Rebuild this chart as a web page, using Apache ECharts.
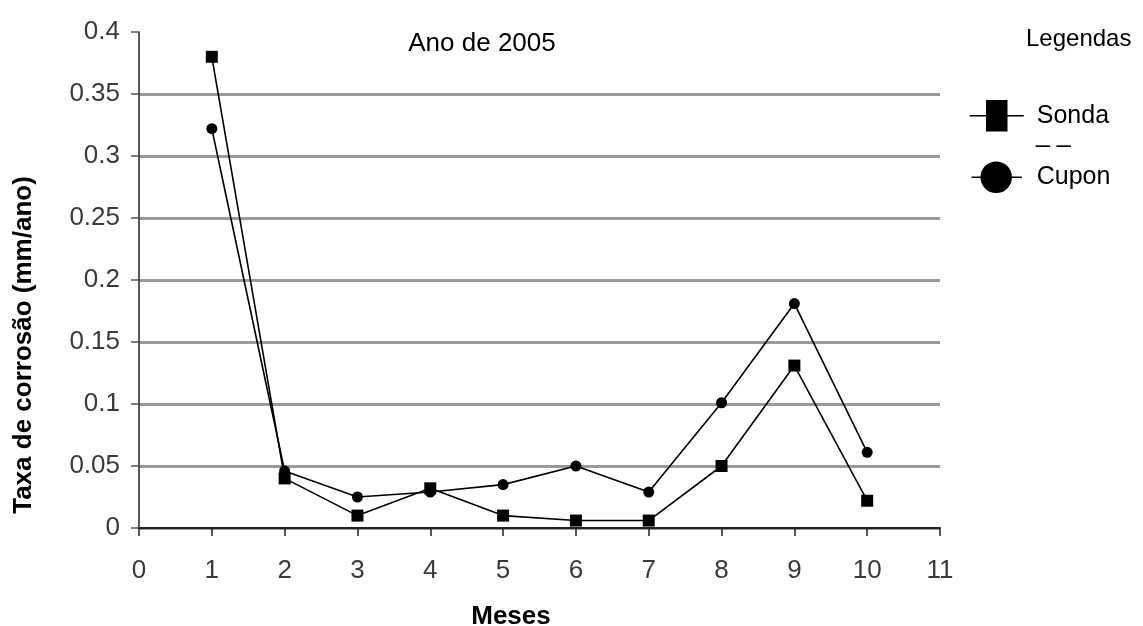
<!DOCTYPE html>
<html>
<head>
<meta charset="utf-8">
<script src="https://cdn.jsdelivr.net/npm/echarts@6/dist/echarts.min.js"></script>
<style>
  html, body { margin: 0; padding: 0; background: #fff; }
  #chart { width: 1143px; height: 626px; }
</style>
</head>
<body>
<div id="chart"></div>
<script>
const meses = [1, 2, 3, 4, 5, 6, 7, 8, 9, 10]
const sonda = [0.38, 0.04, 0.01, 0.032, 0.01, 0.006, 0.006, 0.05, 0.131, 0.022]
const cupon = [0.322, 0.046, 0.025, 0.029, 0.035, 0.05, 0.029, 0.101, 0.181, 0.061]

const font = "Liberation Sans, Arial, sans-serif"

const chart = echarts.init(document.getElementById("chart"))

const option = {
  animation: false,
  grid: { left: 139, right: 203, top: 32, bottom: 98 },
  title: {
    text: "Ano de 2005",
    left: 477,
    top: 26,
    textAlign: "center",
    textStyle: { fontFamily: font, fontSize: 26, fontWeight: "normal", color: "#000" },
  },
  legend: {
    orient: "vertical",
    left: 964,
    top: 95,
    itemWidth: 54,
    itemHeight: 30,
    itemGap: 30,
    textStyle: { fontFamily: font, fontSize: 25, color: "#000", padding: [0, 0, 0, 8] },
    itemStyle: { color: "#000", borderColor: "#000", borderWidth: 1.5 },
    data: [
      { name: "Sonda", icon: "path://M0,15H17M37,15H54M17,0H37V30H17Z" },
      { name: "Cupon", icon: "path://M3,15H12M40,15H50M12,15A14,14 0 1 1 40,15A14,14 0 1 1 12,15Z" },
    ],
  },
  graphic: [
    {
      type: "text",
      left: 1026,
      top: 27,
      style: { text: "Legendas", font: "24px " + font, fill: "#000" },
    },
    {
      type: "text",
      left: 1036,
      top: 123,
      style: { text: "_ _", font: "25px " + font, fill: "#000" },
    },
    {
      type: "text",
      x: 24,
      y: 345,
      rotation: Math.PI / 2,
      style: {
        text: "Taxa de corrosão (mm/ano)",
        font: "bold 26px " + font,
        fill: "#000",
        align: "center",
        verticalAlign: "middle",
      },
    },
    {
      type: "text",
      x: 511,
      y: 617,
      style: {
        text: "Meses",
        font: "bold 26px " + font,
        fill: "#000",
        align: "center",
        verticalAlign: "middle",
      },
    },
  ],
  xAxis: {
    type: "value",
    min: 0,
    max: 11,
    interval: 1,
    axisLine: { show: true, lineStyle: { color: "#222", width: 2 } },
    axisTick: { show: true, length: 8, lineStyle: { color: "#222", width: 1.5 } },
    axisLabel: { color: "#3a3a3a", fontFamily: font, fontSize: 26, margin: 30 },
    splitLine: { show: false },
  },
  yAxis: {
    type: "value",
    min: 0,
    max: 0.4,
    interval: 0.05,
    axisLine: { show: true, lineStyle: { color: "#222", width: 1.5 } },
    axisTick: { show: true, length: 8, lineStyle: { color: "#555", width: 1.5 } },
    axisLabel: { color: "#3a3a3a", fontFamily: font, fontSize: 26, margin: 19 },
    splitLine: {
      show: true,
      showMaxLine: false,
      lineStyle: { color: "#9a9a9a", width: 3 },
    },
  },
  series: [
    {
      name: "Sonda",
      type: "line",
      data: meses.map((m, i) => [m, sonda[i]]),
      symbol: "rect",
      symbolSize: 12,
      lineStyle: { color: "#000", width: 1.6 },
      itemStyle: { color: "#000" },
    },
    {
      name: "Cupon",
      type: "line",
      data: meses.map((m, i) => [m, cupon[i]]),
      symbol: "circle",
      symbolSize: 11,
      lineStyle: { color: "#000", width: 1.6 },
      itemStyle: { color: "#000" },
    },
  ],
}

chart.setOption(option)
</script>
</body>
</html>
